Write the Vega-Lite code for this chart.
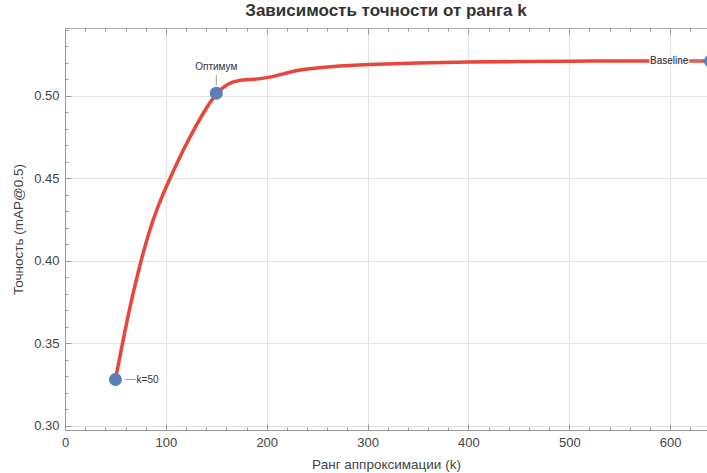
{
  "$schema": "https://vega.github.io/schema/vega-lite/v6.json",
  "autosize": {"type": "none"},
  "padding": {"left": 65, "top": 28, "right": 0, "bottom": 43},
  "width": 642,
  "height": 402,
  "background": "white",
  "title": {"text": "Зависимость точности от ранга k", "font": "Liberation Sans", "fontSize": 17, "fontWeight": "bold", "color": "#333333", "anchor": "middle", "offset": 4},
  "config": {
    "view": {"stroke": "#aaaaaa", "strokeWidth": 1},
    "axis": {"labelFont": "Liberation Sans", "titleFont": "Liberation Sans", "labelColor": "#444444", "titleColor": "#444444", "labelFontSize": 13, "titleFontSize": 13.5, "titleFontWeight": "normal", "domainColor": "#999999", "tickColor": "#999999", "gridColor": "#e3e3e3", "labelOverlap": false, "labelFlush": false}
  },
  "datasets": {
    "curve": [
      {"k": 50, "map": 0.328}, {"k": 57, "map": 0.350}, {"k": 65, "map": 0.374}, {"k": 74, "map": 0.397},
      {"k": 83, "map": 0.417}, {"k": 92, "map": 0.433}, {"k": 104, "map": 0.450}, {"k": 117, "map": 0.467},
      {"k": 130, "map": 0.482}, {"k": 140, "map": 0.4925}, {"k": 150, "map": 0.5015}, {"k": 160, "map": 0.507},
      {"k": 172, "map": 0.5095}, {"k": 188, "map": 0.5098}, {"k": 203, "map": 0.511}, {"k": 218, "map": 0.5135},
      {"k": 232, "map": 0.5157}, {"k": 262, "map": 0.5176}, {"k": 300, "map": 0.5189}, {"k": 350, "map": 0.5198},
      {"k": 400, "map": 0.5204}, {"k": 450, "map": 0.5207}, {"k": 500, "map": 0.5209}, {"k": 560, "map": 0.521},
      {"k": 600, "map": 0.521}, {"k": 640, "map": 0.521}
    ],
    "points": [
      {"k": 50, "map": 0.328, "label": "k=50", "lx": 71, "ly": 0.328},
      {"k": 150, "map": 0.5015, "label": "Оптимум", "lx": 150, "ly": 0.5172},
      {"k": 640, "map": 0.521, "label": "Baseline", "lx": 618, "ly": 0.521}
    ],
    "leaders": [
      {"x": 60, "x2": 70, "y": 0.328, "y2": 0.328},
      {"x": 150, "x2": 150, "y": 0.5063, "y2": 0.5125},
      {"x": 620, "x2": 632, "y": 0.521, "y2": 0.521}
    ]
  },
  "resolve": {"axis": {"x": "independent", "y": "independent"}},
  "layer": [
    {
      "data": {"name": "curve"},
      "mark": {"type": "line", "color": "#e8463a", "strokeWidth": 3.5, "interpolate": "basis", "clip": false},
      "encoding": {
        "x": {"field": "k", "type": "quantitative", "scale": {"domain": [0, 636.5], "nice": false, "zero": false},
          "axis": {"title": "Ранг аппроксимации (k)", "titlePadding": 5, "labelPadding": 12, "labelOverlap": false, "labelFlush": false,
            "values": [0,20,40,60,80,100,120,140,160,180,200,220,240,260,280,300,320,340,360,380,400,420,440,460,480,500,520,540,560,580,600,620],
            "labelExpr": "datum.value % 100 == 0 ? datum.label : ''",
            "tickSize": {"condition": {"test": "datum.value % 100 == 0", "value": -6}, "value": -3},
            "gridOpacity": {"condition": {"test": "datum.value % 100 == 0", "value": 1}, "value": 0}}},
        "y": {"field": "map", "type": "quantitative", "scale": {"domain": [0.2974, 0.541], "nice": false, "zero": false},
          "axis": {"title": "Точность (mAP@0.5)", "titlePadding": 8, "labelPadding": 12, "labelOverlap": false, "labelFlush": false,
            "values": [0.30,0.31,0.32,0.33,0.34,0.35,0.36,0.37,0.38,0.39,0.40,0.41,0.42,0.43,0.44,0.45,0.46,0.47,0.48,0.49,0.50,0.51,0.52,0.53,0.54],
            "labelExpr": "round(datum.value*100) % 5 == 0 ? format(datum.value, '.2f') : ''",
            "tickSize": {"condition": {"test": "round(datum.value*100) % 5 == 0", "value": -6}, "value": -3},
            "gridOpacity": {"condition": {"test": "round(datum.value*100) % 5 == 0", "value": 1}, "value": 0}}}
      }
    },
    {
      "data": {"name": "curve"},
      "mark": {"type": "point", "opacity": 0},
      "encoding": {
        "x": {"field": "k", "type": "quantitative",
          "axis": {"orient": "top", "title": null, "labels": false, "domain": false, "grid": false,
            "values": [0,20,40,60,80,100,120,140,160,180,200,220,240,260,280,300,320,340,360,380,400,420,440,460,480,500,520,540,560,580,600,620],
            "tickSize": {"condition": {"test": "datum.value % 100 == 0", "value": -6}, "value": -3}}},
        "y": {"field": "map", "type": "quantitative", "axis": null}
      }
    },
    {
      "data": {"name": "leaders"},
      "mark": {"type": "rule", "color": "#9a9a9a", "strokeWidth": 1},
      "encoding": {
        "x": {"field": "x", "type": "quantitative", "axis": null},
        "x2": {"field": "x2"},
        "y": {"field": "y", "type": "quantitative", "axis": null},
        "y2": {"field": "y2"}
      }
    },
    {
      "data": {"name": "points"},
      "mark": {"type": "circle", "color": "#5b80b8", "opacity": 1, "size": 170, "clip": false},
      "encoding": {
        "x": {"field": "k", "type": "quantitative", "axis": null},
        "y": {"field": "map", "type": "quantitative", "axis": null}
      }
    },
    {
      "data": {"name": "points"},
      "transform": [{"filter": "datum.label == 'k=50'"}],
      "mark": {"type": "text", "font": "Liberation Sans", "fontSize": 10, "color": "#333333", "baseline": "middle", "align": "left"},
      "encoding": {
        "x": {"field": "lx", "type": "quantitative", "axis": null},
        "y": {"field": "ly", "type": "quantitative", "axis": null},
        "text": {"field": "label"}
      }
    },
    {
      "data": {"name": "points"},
      "transform": [{"filter": "datum.label == 'Оптимум'"}],
      "mark": {"type": "text", "font": "Liberation Sans", "fontSize": 10, "color": "#333333", "baseline": "middle", "align": "center"},
      "encoding": {
        "x": {"field": "lx", "type": "quantitative", "axis": null},
        "y": {"field": "ly", "type": "quantitative", "axis": null},
        "text": {"field": "label"}
      }
    },
    {
      "data": {"name": "points"},
      "transform": [{"filter": "datum.label == 'Baseline'"}],
      "mark": {"type": "text", "font": "Liberation Sans", "fontSize": 10, "stroke": "white", "strokeWidth": 3, "strokeOpacity": 0.8, "baseline": "middle", "align": "right"},
      "encoding": {
        "x": {"field": "lx", "type": "quantitative", "axis": null},
        "y": {"field": "ly", "type": "quantitative", "axis": null},
        "text": {"field": "label"}
      }
    },
    {
      "data": {"name": "points"},
      "transform": [{"filter": "datum.label == 'Baseline'"}],
      "mark": {"type": "text", "font": "Liberation Sans", "fontSize": 10, "color": "#333333", "baseline": "middle", "align": "right"},
      "encoding": {
        "x": {"field": "lx", "type": "quantitative", "axis": null},
        "y": {"field": "ly", "type": "quantitative", "axis": null},
        "text": {"field": "label"}
      }
    }
  ]
}
